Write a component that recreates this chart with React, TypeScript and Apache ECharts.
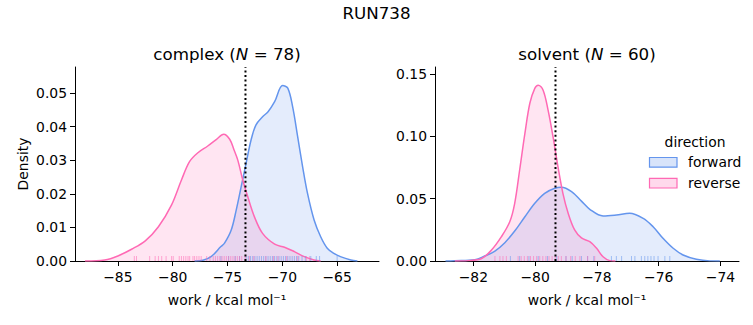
import React, { useEffect, useRef } from "react";
import * as echarts from "echarts";

// ---- data ----
const complexForward: [number, number][] = [
  [-78.0, 0], [-77.25, 0.0002], [-76.5, 0.0013], [-75.6, 0.0043], [-75.27, 0.0053], [-74.66, 0.0092],
  [-74.2, 0.0152], [-73.75, 0.0221], [-73.3, 0.0291], [-72.85, 0.036], [-72.4, 0.0405],
  [-71.8, 0.0429], [-71.3, 0.0444], [-70.7, 0.0474], [-69.97, 0.0522], [-69.5, 0.0514],
  [-69.06, 0.0459], [-68.6, 0.037], [-68.15, 0.0281], [-67.7, 0.0201], [-67.1, 0.0122],
  [-66.5, 0.0072], [-65.9, 0.0038], [-65.3, 0.0023], [-64.7, 0.0013], [-63.75, 0.0003], [-63.15, 0],
];
const complexReverse: [number, number][] = [
  [-88.0, 0], [-86.2, 0.0003], [-85.0, 0.0015], [-83.75, 0.0035], [-82.5, 0.006], [-81.3, 0.0102],
  [-80.1, 0.0167], [-79.2, 0.0241], [-78.45, 0.0296], [-77.7, 0.0322], [-76.8, 0.0342],
  [-76.0, 0.0362], [-75.35, 0.0377], [-74.8, 0.0362], [-74.4, 0.033], [-74.06, 0.03],
  [-73.6, 0.024], [-73.15, 0.0191], [-72.55, 0.0132], [-71.8, 0.0082], [-70.7, 0.005],
  [-69.8, 0.0041], [-68.9, 0.0028], [-68.0, 0.0013], [-67.1, 0.0003], [-66.5, 0],
];
const solventForward: [number, number][] = [
  [-82.9, 0], [-82.6, 0.0002], [-81.95, 0.001], [-81.63, 0.004], [-81.3, 0.008], [-80.98, 0.0147],
  [-80.66, 0.024], [-80.33, 0.0355], [-80.01, 0.0463], [-79.69, 0.0543], [-79.36, 0.0583],
  [-79.15, 0.0591], [-78.82, 0.0556], [-78.5, 0.048], [-78.23, 0.0415], [-77.8, 0.0361],
  [-77.37, 0.0369], [-76.94, 0.0383], [-76.5, 0.0342], [-76.18, 0.0275], [-75.86, 0.0182],
  [-75.53, 0.0102], [-75.21, 0.0048], [-74.78, 0.0014], [-74.35, 0.0001], [-74.02, 0],
];
const solventReverse: [number, number][] = [
  [-82.6, 0], [-82.17, 0.0003], [-81.73, 0.002], [-81.41, 0.0088], [-81.09, 0.0195], [-80.82, 0.0315],
  [-80.66, 0.0463], [-80.5, 0.073], [-80.33, 0.1024], [-80.17, 0.1265], [-80.01, 0.1385],
  [-79.9, 0.141], [-79.74, 0.137], [-79.58, 0.121], [-79.42, 0.0997], [-79.26, 0.0756],
  [-79.1, 0.0543], [-78.93, 0.0383], [-78.72, 0.0249], [-78.5, 0.0185], [-78.23, 0.0155],
  [-78.01, 0.0102], [-77.8, 0.0034], [-77.58, 0.0003], [-77.4, 0],
];

const complexForwardRug = [
  -75.6, -74.9, -74.3, -73.9, -73.3, -73.1, -72.9, -72.7, -72.5, -72.3, -72.1, -71.9, -71.7,
  -71.5, -71.3, -71.1, -70.9, -70.7, -70.5, -70.3, -70.1, -69.9, -69.7, -69.5, -69.3, -69.1,
  -68.9, -68.7, -68.5, -68.2, -67.9, -67.4, -66.9, -66.6, -65.0,
];
const complexReverseRug = [
  -83.5, -83.3, -82.1, -81.6, -81.3, -81.0, -80.6, -80.1, -79.95, -79.4, -79.2, -79.0, -78.8,
  -78.6, -78.45, -78.15, -78.0, -77.8, -77.6, -77.4, -76.9, -76.6, -76.3, -76.1, -75.9, -75.7,
  -75.5, -75.3, -75.1, -74.9, -74.7, -74.5, -74.3, -74.1, -73.9, -73.7, -73.4, -73.0, -72.6,
  -71.5, -70.8, -70.4, -69.6, -68.6, -67.8, -67.5,
];
const solventForwardRug = [
  -80.8, -80.5, -80.2, -79.9, -79.6, -79.3, -79.0, -78.8, -78.5, -78.3, -78.1, -77.53, -77.37,
  -77.2, -76.88, -76.77, -76.56, -76.45, -76.35, -76.25, -76.15, -76.02, -75.8, -75.64,
];
const solventReverseRug = [
  -81.3, -81.14, -81.04, -80.93, -80.55, -80.45, -80.35, -80.25, -80.15, -80.05, -79.95, -79.85,
  -79.75, -79.65, -79.55, -79.45, -79.35, -79.25, -79.15, -79.0, -78.85, -78.7, -78.55, -78.3, -78.07,
];

const complexTicksX = [-85, -80, -75, -70, -65];
const solventTicksX = [-82, -80, -78, -76, -74];
const complexTicksY = [0, 0.01, 0.02, 0.03, 0.04, 0.05];
const solventTicksY = [0, 0.05, 0.1, 0.15];
const complexMean = -73.36;
const solventMean = -79.34;

const BLUE = "#6495ED";
const PINK = "#FF69B4";
const BLUE_FILL = "rgba(100,149,237,0.25)";
const PINK_FILL = "rgba(255,105,180,0.25)";
const FONT = "DejaVu Sans";
const FS = 13.9;

const fmtX = (v: number) => (v < 0 ? "\u2212" + Math.abs(v) : String(v));

function xAxis(idx: number, min: number, max: number, ticks: number[]) {
  return {
    type: "value",
    gridIndex: idx,
    min,
    max,
    name: "work / kcal mol\u207B\u00B9",
    nameLocation: "middle",
    nameGap: 32,
    nameTextStyle: { fontFamily: FONT, fontSize: FS, color: "#000" },
    axisLine: { show: true, onZero: false, lineStyle: { color: "#000", width: 1 } },
    axisTick: { show: true, length: 5, lineStyle: { color: "#000", width: 1 }, customValues: ticks },
    axisLabel: { fontFamily: FONT, fontSize: FS, color: "#000", margin: 9, customValues: ticks, formatter: fmtX },
    splitLine: { show: false },
  };
}
function yAxis(idx: number, max: number, ticks: number[], name: string) {
  return {
    type: "value",
    gridIndex: idx,
    min: 0,
    max,
    name,
    nameLocation: "middle",
    nameGap: 45,
    nameTextStyle: { fontFamily: FONT, fontSize: FS, color: "#000" },
    axisLine: { show: true, lineStyle: { color: "#000", width: 1 } },
    axisTick: { show: true, length: 5, lineStyle: { color: "#000", width: 1 }, customValues: ticks },
    axisLabel: { fontFamily: FONT, fontSize: FS, color: "#000", margin: 8, customValues: ticks, formatter: (v: number) => v.toFixed(2) },
    splitLine: { show: false },
  };
}
function kde(idx: number, name: string, data: [number, number][], color: string, fill: string) {
  return {
    type: "line",
    name,
    xAxisIndex: idx,
    yAxisIndex: idx,
    data,
    smooth: 0.35,
    showSymbol: false,
    symbol: "none",
    lineStyle: { color, width: 1.5 },
    areaStyle: { color: fill, origin: "start" },
    itemStyle: { color },
    z: 2,
  };
}
function rug(idx: number, vals: number[], color: string) {
  return {
    type: "scatter",
    xAxisIndex: idx,
    yAxisIndex: idx,
    data: vals.map((v) => [v, 0]),
    symbol: "rect",
    symbolSize: [1, 5],
    symbolOffset: [0, "-50%"],
    itemStyle: { color, opacity: 0.55 },
    silent: true,
    z: 3,
  };
}
function vline(idx: number, x: number, top: number) {
  return {
    type: "line",
    xAxisIndex: idx,
    yAxisIndex: idx,
    data: [[x, 0], [x, top]],
    showSymbol: false,
    symbol: "none",
    lineStyle: { color: "#000", width: 2, type: [2, 2.6] },
    z: 5,
    silent: true,
  };
}

export default function App() {
  const ref = useRef<HTMLDivElement>(null);
  useEffect(() => {
    if (!ref.current) return;
    const chart = echarts.init(ref.current, undefined, { renderer: "svg" });
    const cMax = 0.0577;
    const sMax = 0.1556;
    chart.setOption({
      animation: false,
      backgroundColor: "#fff",
      grid: [
        { left: 75, top: 67, width: 304, height: 194, containLabel: false },
        { left: 435, top: 67, width: 304, height: 194, containLabel: false },
      ],
      xAxis: [xAxis(0, -88.91, -61.18, complexTicksX), xAxis(1, -83.24, -73.4, solventTicksX)],
      yAxis: [yAxis(0, cMax, complexTicksY, "Density"), yAxis(1, sMax, solventTicksY, "")],
      series: [
        kde(0, "forward", complexForward, BLUE, BLUE_FILL),
        kde(0, "reverse", complexReverse, PINK, PINK_FILL),
        kde(1, "forward", solventForward, BLUE, BLUE_FILL),
        kde(1, "reverse", solventReverse, PINK, PINK_FILL),
        rug(0, complexForwardRug, BLUE),
        rug(0, complexReverseRug, PINK),
        rug(1, solventForwardRug, BLUE),
        rug(1, solventReverseRug, PINK),
        vline(0, complexMean, cMax),
        vline(1, solventMean, sMax),
      ],
      graphic: [
        {
          type: "text",
          x: 376.5,
          y: 13,
          style: { text: "RUN738", font: `16.7px "${FONT}"`, fill: "#000", align: "center", verticalAlign: "middle" },
        },
        {
          type: "text",
          x: 227,
          y: 54,
          style: {
            text: "{a|complex (}{i|N}{a| = 78)}",
            align: "center",
            verticalAlign: "middle",
            rich: {
              a: { fontFamily: FONT, fontSize: 16.7, fill: "#000" },
              i: { fontFamily: FONT, fontSize: 16.7, fontStyle: "italic", fill: "#000" },
            },
          },
        },
        {
          type: "text",
          x: 587,
          y: 54,
          style: {
            text: "{a|solvent (}{i|N}{a| = 60)}",
            align: "center",
            verticalAlign: "middle",
            rich: {
              a: { fontFamily: FONT, fontSize: 16.7, fill: "#000" },
              i: { fontFamily: FONT, fontSize: 16.7, fontStyle: "italic", fill: "#000" },
            },
          },
        },
        {
          type: "text",
          x: 695,
          y: 141.5,
          style: { text: "direction", font: `${FS}px "${FONT}"`, fill: "#000", align: "center", verticalAlign: "middle" },
        },
        {
          type: "rect",
          shape: { x: 649.5, y: 157.5, width: 27.5, height: 9.7 },
          style: { fill: BLUE_FILL, stroke: BLUE, lineWidth: 1.2 },
        },
        {
          type: "text",
          x: 688,
          y: 162,
          style: { text: "forward", font: `${FS}px "${FONT}"`, fill: "#000", align: "left", verticalAlign: "middle" },
        },
        {
          type: "rect",
          shape: { x: 649.5, y: 178.3, width: 27.5, height: 9.7 },
          style: { fill: PINK_FILL, stroke: PINK, lineWidth: 1.2 },
        },
        {
          type: "text",
          x: 688,
          y: 182.5,
          style: { text: "reverse", font: `${FS}px "${FONT}"`, fill: "#000", align: "left", verticalAlign: "middle" },
        },
      ],
    });
    return () => chart.dispose();
  }, []);
  return (
    <div
      ref={ref}
      style={{ position: "fixed", left: 0, top: 0, width: 753, height: 325, background: "#fff" }}
    />
  );
}
